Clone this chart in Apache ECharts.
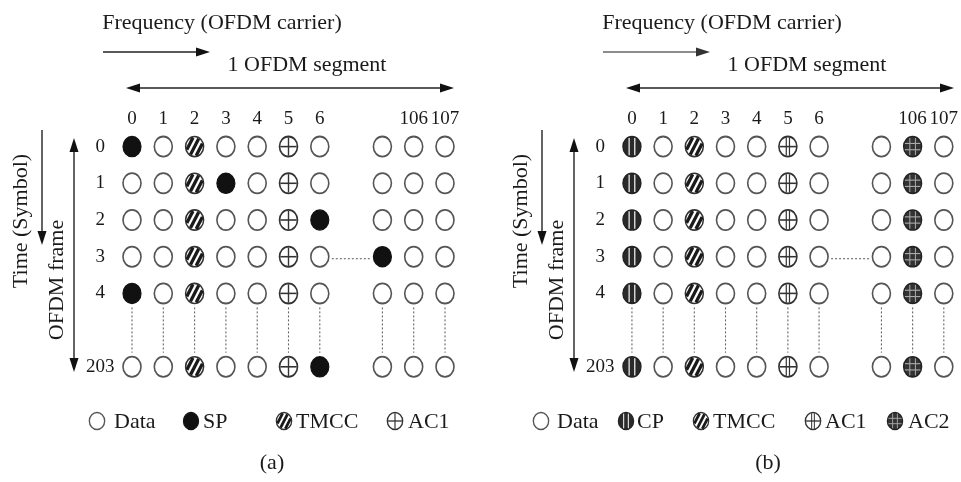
<!DOCTYPE html>
<html><head><meta charset="utf-8">
<script src="https://cdn.jsdelivr.net/npm/echarts@6/dist/echarts.min.js"></script>
<style>html,body{margin:0;padding:0;background:#fff}#c{width:961px;height:482px}</style>
</head><body><div id="c"></div>
<script>
// ---- data ----
// carrier axis: 0..6, gap, carrier 105 (unlabeled), 106, 107
const carrierLabels = ['0','1','2','3','4','5','6','','','106','107'];
// symbol axis: 0..4, gap, 203
const symbolLabels = ['0','1','2','3','4','','203'];
const carrierPos = [0,1,2,3,4,5,6,8,9,10];
const symbolPos = [0,1,2,3,4,6];
// D=Data, SP=scattered pilot, T=TMCC, A1=AC1, CP=continual pilot, A2=AC2
const cellsA = [
  ['SP','D','T','D','D','A1','D','D','D','D'],
  ['D','D','T','SP','D','A1','D','D','D','D'],
  ['D','D','T','D','D','A1','SP','D','D','D'],
  ['D','D','T','D','D','A1','D','SP','D','D'],
  ['SP','D','T','D','D','A1','D','D','D','D'],
  ['D','D','T','D','D','A1','SP','D','D','D']
];
const cellsB = [
  ['CP','D','T','D','D','A1','D','D','A2','D'],
  ['CP','D','T','D','D','A1','D','D','A2','D'],
  ['CP','D','T','D','D','A1','D','D','A2','D'],
  ['CP','D','T','D','D','A1','D','D','A2','D'],
  ['CP','D','T','D','D','A1','D','D','A2','D'],
  ['CP','D','T','D','D','A1','D','D','A2','D']
];
const legendA = [['D','Data'],['SP','SP'],['T','TMCC'],['A1','AC1']];
const legendB = [['D','Data'],['CP','CP'],['T','TMCC'],['A1','AC1'],['A2','AC2']];
const panelTags = ['(a)','(b)'];
const freqTitle = 'Frequency (OFDM carrier)';
const segTitle = '1 OFDM segment';
const timeTitle = 'Time (Symbol)';
const frameTitle = 'OFDM frame';

// ---- drawing helpers ----
const FONT = '"Liberation Serif", "Times New Roman", serif';
function chord(r, ang, d) {
  const tx = Math.cos(ang), ty = Math.sin(ang), nx = -ty, ny = tx;
  const h = Math.sqrt(Math.max(r*r - d*d, 0));
  return {x1: d*nx - h*tx, y1: d*ny - h*ty, x2: d*nx + h*tx, y2: d*ny + h*ty};
}
function glyph(kind, panel, x, y, s) {
  const r = 9, ri = 8.2, ch = [];
  const circ = (fill, stroke, w) => ch.push({type:'circle', shape:{cx:0, cy:0, r}, style:{fill, stroke, lineWidth:w}});
  const ln = (sh, color, w) => ch.push({type:'line', shape:sh, style:{stroke:color, lineWidth:w}});
  if (kind === 'D') {
    circ('#fff', '#555', 1.6);
  } else if (kind === 'SP') {
    circ('#111', '#111', 1.2);
  } else if (kind === 'T') {
    circ('#fff', '#333', 1.5);
    [-5.4, 0, 5.4].forEach(d => ln(chord(ri, -Math.PI/3, d), '#1a1a1a', 3.2));
  } else if (kind === 'A1') {
    circ('#fff', '#333', 1.6);
    ln(chord(ri, 0, 0), '#333', 1.4);
    if (panel === 1) {
      ln(chord(ri, Math.PI/2, -1.6), '#333', 1.2);
      ln(chord(ri, Math.PI/2, 1.6), '#333', 1.2);
    } else {
      ln(chord(ri, Math.PI/2, 0), '#333', 1.4);
    }
  } else if (kind === 'CP') {
    circ('#2a2a2a', '#222', 1.4);
    ln(chord(ri, Math.PI/2, -2.8), '#ddd', 1.4);
    ln(chord(ri, Math.PI/2, 2.8), '#ddd', 1.4);
  } else if (kind === 'A2') {
    circ('#333', '#222', 1.4);
    [-2.8, 2.8].forEach(d => {
      ln(chord(ri, Math.PI/2, d), '#aaa', 1);
      ln(chord(ri, 0, d), '#aaa', 1);
    });
  }
  return {type:'group', x, y, scaleX:s, scaleY:s*1.12, children:ch};
}

function buildCells(table, panel) {
  const out = [];
  table.forEach((row, i) => row.forEach((k, j) => out.push({pos:[carrierPos[j], symbolPos[i]], kind:k, panel})));
  return out;
}
const listA = buildCells(cellsA, 0), listB = buildCells(cellsB, 1);

// connectors between row 4 and row 203 for every column, and row 3 gap link
const connectors = carrierPos.map(c => [c, 4, c, 6]).concat([[6, 3, 8, 3]]);

function cellSeries(list, idx) {
  return {
    type:'custom', xAxisIndex:idx, yAxisIndex:idx, z:3,
    data: list.map(c => c.pos),
    encode:{x:0, y:1},
    renderItem: (params, api) => {
      const c = list[params.dataIndex];
      const p = api.coord([api.value(0), api.value(1)]);
      return glyph(c.kind, c.panel, p[0], p[1], 1);
    }
  };
}
function connSeries(idx) {
  return {
    type:'custom', xAxisIndex:idx, yAxisIndex:idx, z:2,
    data: connectors, encode:{x:[0,2], y:[1,3]},
    renderItem: (params, api) => {
      const a = api.coord([api.value(0), api.value(1)]);
      const b = api.coord([api.value(2), api.value(3)]);
      let sh;
      if (Math.abs(a[0]-b[0]) < 1) sh = {x1:a[0], y1:a[1]+14, x2:b[0], y2:b[1]-14};
      else sh = {x1:a[0]+12, y1:a[1]+2, x2:b[0]-12, y2:b[1]+2};
      return {type:'line', shape:sh, style:{stroke:'#666', lineWidth:1.1, lineDash:[2,2]}};
    }
  };
}

function txt(x, y, text, opt) {
  opt = opt || {};
  return {type:'text', x, y, rotation:opt.rot || 0, style:{
    text, font: (opt.size || 22) + 'px ' + FONT, fill:'#1a1a1a',
    align: opt.align || 'center', verticalAlign:'middle',
    textAlign: opt.align || 'center', textVerticalAlign:'middle'}};
}
function hline(x1, x2, y, color) {
  return {type:'line', shape:{x1, y1:y, x2, y2:y}, style:{stroke:color, lineWidth:1.4}};
}
function vline(x, y1, y2) {
  return {type:'line', shape:{x1:x, y1, x2:x, y2}, style:{stroke:'#222', lineWidth:1.4}};
}
function head(points, color) {
  return {type:'polygon', shape:{points}, style:{fill:color || '#111'}};
}
function decor(ox, panel, legend, legendX) {
  const g = [];
  const arrowCol = panel === 1 ? '#666' : '#222';
  g.push(txt(ox+222, 23, freqTitle));
  g.push(hline(ox+103, ox+200, 52, arrowCol));
  g.push(head([[ox+210,52],[ox+196,47.5],[ox+196,56.5]], panel === 1 ? '#333' : '#111'));
  g.push(txt(ox+307, 65, segTitle));
  g.push(hline(ox+135, ox+445, 88, '#222'));
  g.push(head([[ox+126,88],[ox+140,83.5],[ox+140,92.5]]));
  g.push(head([[ox+454,88],[ox+440,83.5],[ox+440,92.5]]));
  g.push(txt(ox+21, 221, timeTitle, {rot:Math.PI/2}));
  g.push(vline(ox+42, 130, 234));
  g.push(head([[ox+42,245],[ox+37.5,231],[ox+46.5,231]]));
  g.push(txt(ox+57, 280, frameTitle, {rot:Math.PI/2}));
  g.push(vline(ox+74, 148, 362));
  g.push(head([[ox+74,138],[ox+69.5,152],[ox+78.5,152]]));
  g.push(head([[ox+74,372],[ox+69.5,358],[ox+78.5,358]]));
  legend.forEach((it, i) => {
    g.push(glyph(it[0], panel, legendX[i][0], 421, 0.85));
    g.push(txt(legendX[i][1], 422, it[1], {align:'left'}));
  });
  g.push(txt(panel === 0 ? 272 : 768, 463, panelTags[panel]));
  return g;
}

const chart = echarts.init(document.getElementById('c'));
const gridW = 344.3, gridH = 256.9;
function xAx(idx) {
  return {gridIndex:idx, type:'category', position:'top', data:carrierLabels,
    axisLine:{show:false}, axisTick:{show:false}, splitLine:{show:false},
    axisLabel:{interval:0, margin:0, fontSize:19, fontFamily:FONT, color:'#1a1a1a'}};
}
function yAx(idx) {
  return {gridIndex:idx, type:'category', inverse:true, data:symbolLabels,
    axisLine:{show:false}, axisTick:{show:false}, splitLine:{show:false},
    axisLabel:{interval:0, margin:16, align:'center', fontSize:19, fontFamily:FONT, color:'#1a1a1a'}};
}
chart.setOption({
  backgroundColor:'#fff',
  animation:false,
  grid:[
    {left:116.35, top:128.25, width:gridW, height:gridH},
    {left:616.35, top:128.25, width:gridW, height:gridH}
  ],
  xAxis:[xAx(0), xAx(1)],
  yAxis:[yAx(0), yAx(1)],
  series:[connSeries(0), connSeries(1), cellSeries(listA, 0), cellSeries(listB, 1)],
  graphic:{elements: decor(0, 0, legendA, [[97,114],[191,203],[284,296],[395,408]])
    .concat(decor(500, 1, legendB, [[541,557],[626,637],[701,713],[813,825],[895,908]]))}
});
</script></body></html>
